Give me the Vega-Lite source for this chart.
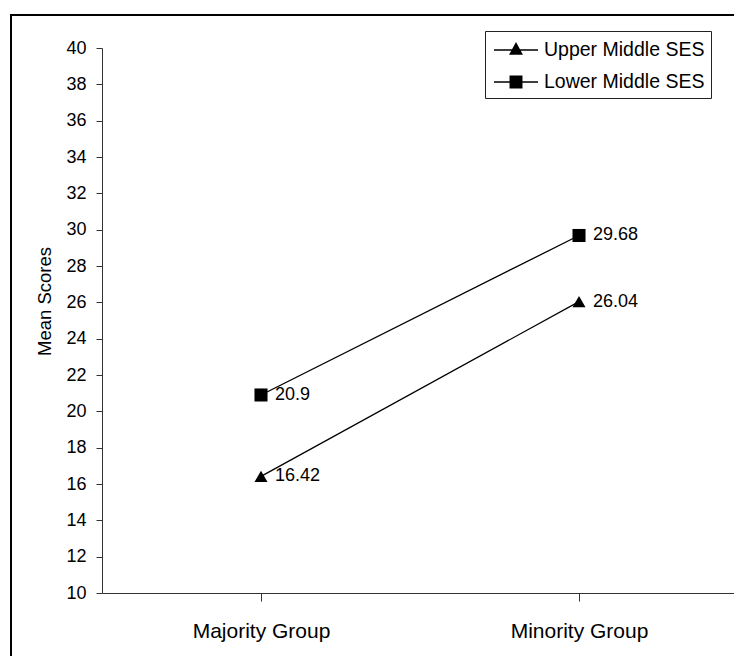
{
  "$schema": "https://vega.github.io/schema/vega-lite/v6.json",
  "autosize": "none",
  "padding": {"left": 11, "top": 15, "right": -10, "bottom": -10},
  "width": 733,
  "height": 651,
  "background": "white",
  "config": {
    "font": "Liberation Sans",
    "view": {"stroke": "black", "strokeWidth": 2, "fill": "white"},
    "axis": {
      "domainColor": "#333",
      "tickColor": "#333",
      "labelColor": "black",
      "titleColor": "black",
      "grid": false,
      "labelFont": "Liberation Sans",
      "titleFont": "Liberation Sans"
    }
  },
  "data": {
    "values": [
      {"group": "Majority Group", "series": "Upper Middle SES", "score": 16.42},
      {"group": "Minority Group", "series": "Upper Middle SES", "score": 26.04},
      {"group": "Majority Group", "series": "Lower Middle SES", "score": 20.9},
      {"group": "Minority Group", "series": "Lower Middle SES", "score": 29.68}
    ]
  },
  "encoding": {
    "x": {
      "field": "group",
      "type": "nominal",
      "scale": {
        "domain": ["Majority Group", "Minority Group"],
        "range": [91, 727],
        "paddingInner": 0,
        "paddingOuter": 0
      },
      "axis": {
        "title": null,
        "bandPosition": 0,
        "tickSize": 8,
        "labelFontSize": 21,
        "labelPadding": 19,
        "labelAngle": 0,
        "labelBaseline": "top",
        "labelLimit": 0,
        "offset": -73
      }
    },
    "y": {
      "field": "score",
      "type": "quantitative",
      "scale": {"domain": [10, 40], "range": [578, 33], "nice": false, "zero": false},
      "axis": {
        "title": "Mean Scores",
        "values": [10, 12, 14, 16, 18, 20, 22, 24, 26, 28, 30, 32, 34, 36, 38, 40],
        "tickSize": 6,
        "labelPadding": 10,
        "labelFontSize": 18,
        "titleFontSize": 18.5,
        "titleFontWeight": "normal",
        "offset": -91,
        "titleX": -48,
        "titleY": 286,
        "labelFlush": false,
        "labelOverlap": false
      }
    }
  },
  "layer": [
    {
      "mark": {"type": "line", "color": "black", "strokeWidth": 1.3},
      "encoding": {"detail": {"field": "series"}}
    },
    {
      "mark": {"type": "point", "filled": true, "fill": "black", "opacity": 0},
      "encoding": {
        "shape": {
          "field": "series",
          "type": "nominal",
          "scale": {
            "domain": ["Upper Middle SES", "Lower Middle SES"],
            "range": [
              "M-0.833,-0.055H2.833V0.055H-0.833ZM1,-0.67L1.58,0.4L0.42,0.4Z",
              "M-0.833,-0.055H2.833V0.055H-0.833ZM0.46,-0.54H1.54V0.54H0.46Z"
            ]
          },
          "legend": {
            "title": null,
            "orient": "none",
            "legendX": 474,
            "legendY": 16,
            "symbolSize": 576,
            "symbolOpacity": 1,
            "labelFontSize": 19.5,
            "labelOffset": 27,
            "labelLimit": 0,
            "labelColor": "black",
            "padding": 6,
            "strokeColor": "#222",
            "fillColor": "white",
            "rowPadding": 9
          }
        }
      }
    },
    {
      "mark": {"type": "point", "filled": true, "color": "black", "size": 170, "opacity": 1},
      "encoding": {
        "shape": {
          "field": "series",
          "type": "nominal",
          "scale": {
            "domain": ["Upper Middle SES", "Lower Middle SES"],
            "range": ["triangle-up", "square"]
          },
          "legend": null
        }
      }
    },
    {
      "mark": {"type": "text", "align": "left", "baseline": "middle", "dx": 14, "fontSize": 18, "color": "black"},
      "encoding": {"text": {"field": "score", "type": "quantitative"}}
    }
  ],
  "resolve": {"scale": {"shape": "independent"}, "legend": {"shape": "independent"}}
}
